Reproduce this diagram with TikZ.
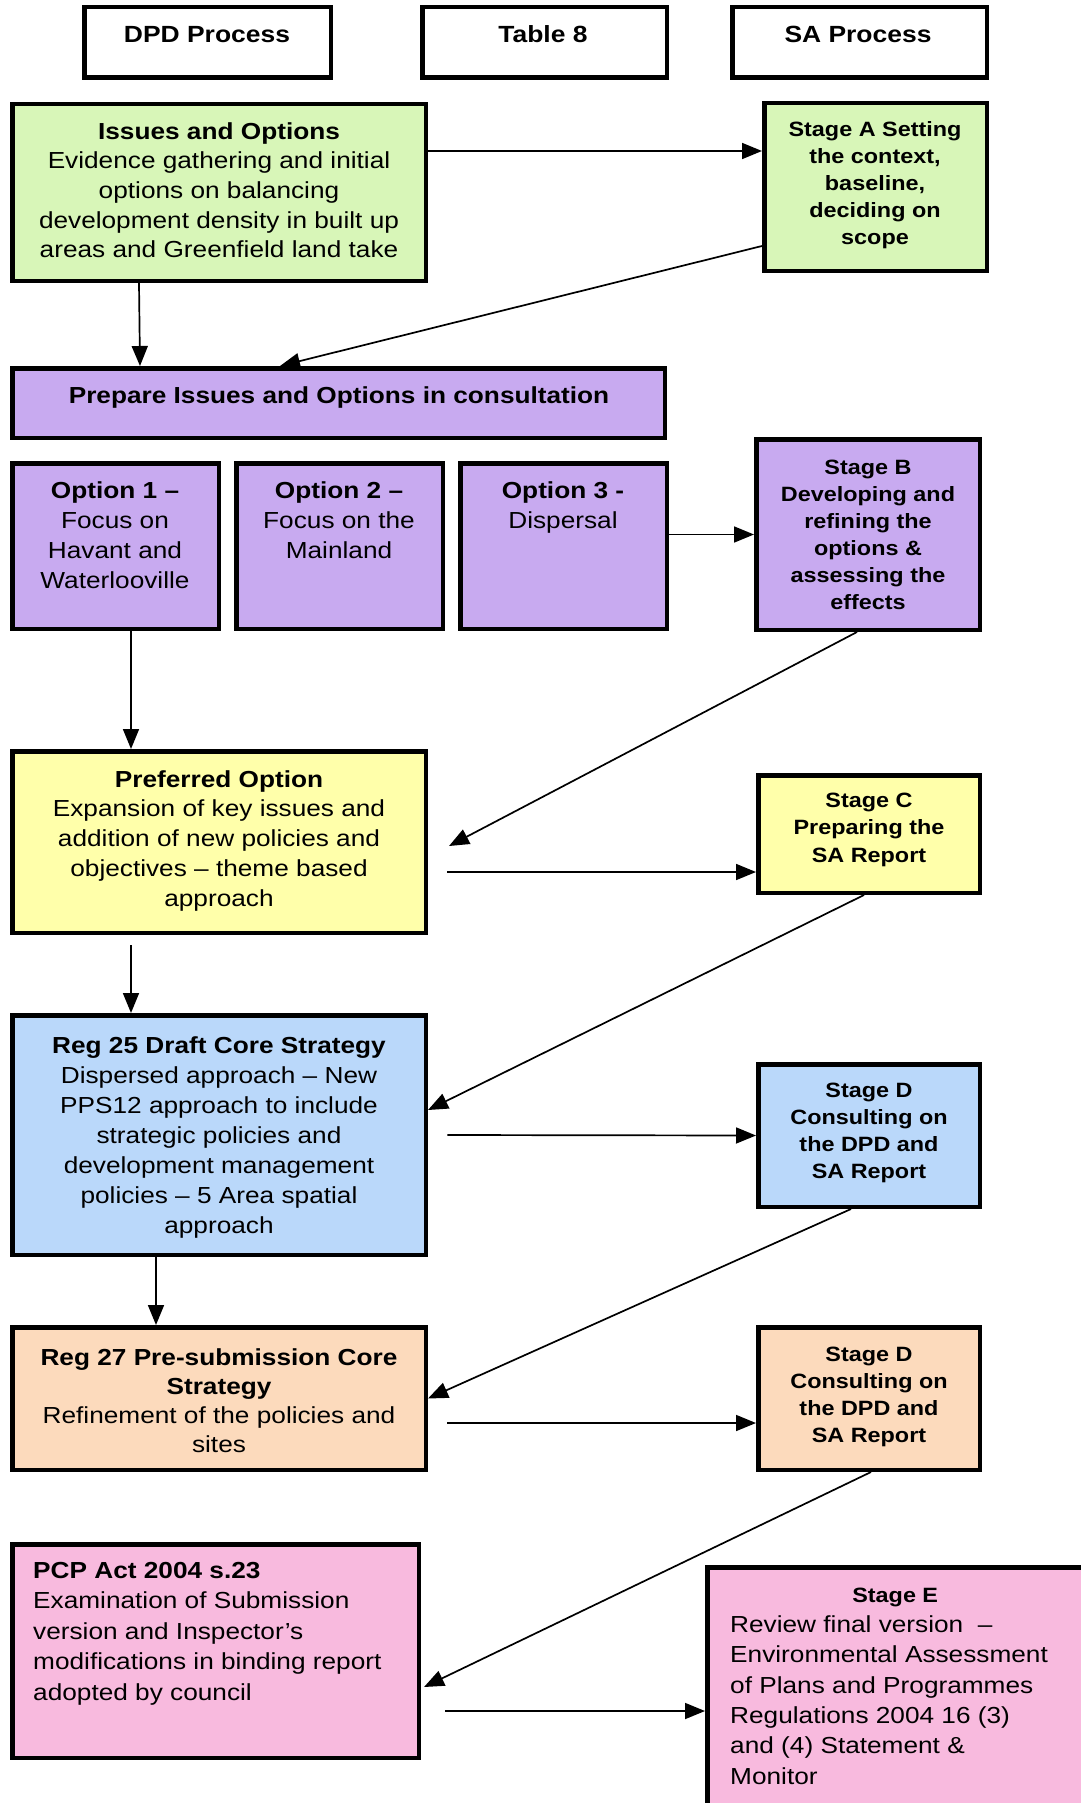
\documentclass[tikz,border=0pt]{standalone}
\usepackage{fontspec}
\setmainfont{Liberation Sans}[FakeStretch=1.13]
\usetikzlibrary{arrows.meta}
\definecolor{cgrn}{RGB}{216,246,184}
\definecolor{cpur}{RGB}{200,170,240}
\definecolor{cyel}{RGB}{255,255,170}
\definecolor{cblu}{RGB}{186,216,250}
\definecolor{cora}{RGB}{252,218,188}
\definecolor{cpnk}{RGB}{248,186,222}
\begin{document}
\begin{tikzpicture}[x=1pt,y=-1pt,
  box/.style={draw=black, line width=4.5pt, inner sep=0pt, rectangle},
  body/.style={font=\fontsize{23.2pt}{29.7pt}\selectfont, align=center, inner sep=0pt, anchor=base},
  stagetxt/.style={font=\fontsize{20.7pt}{26.5pt}\selectfont\bfseries, align=center, inner sep=0pt, anchor=base},
  hdrtxt/.style={font=\fontsize{23.4pt}{28pt}\selectfont\bfseries, inner sep=0pt, anchor=base},
  arr/.style={line width=1.7pt, -{Triangle[length=20pt,width=16pt]}}
]
\useasboundingbox (0,0) rectangle (1080,1803);

% header boxes
\node[box, minimum width=246.5pt, minimum height=70.5pt] (h1) at (207.5,42.5) {};
\node[box, minimum width=244.5pt, minimum height=70.5pt] (h2) at (544.5,42.5) {};
\node[box, minimum width=254.5pt, minimum height=70.5pt] (h3) at (859.5,42.5) {};
\node[hdrtxt] (h1t) at (207,43) {DPD Process};
\node[hdrtxt] (h2t) at (543,43) {Table 8};
\node[hdrtxt] (h3t) at (858,43) {SA Process};

% boxes
\node[box, fill=cgrn, minimum width=413.5pt, minimum height=176.5pt] (io) at (219,192.5) {};
\node[box, fill=cgrn, minimum width=222.5pt, minimum height=167.5pt] (sa) at (875.5,187) {};
\node[box, fill=cpur, minimum width=652.5pt, minimum height=69.5pt] (prep) at (338.5,403) {};
\node[box, fill=cpur, minimum width=206.5pt, minimum height=165.5pt] (o1) at (115.5,546) {};
\node[box, fill=cpur, minimum width=206.5pt, minimum height=165.5pt] (o2) at (339.5,546) {};
\node[box, fill=cpur, minimum width=206.5pt, minimum height=165.5pt] (o3) at (563.5,546) {};
\node[box, fill=cpur, minimum width=223.5pt, minimum height=190.5pt] (sb) at (868,534.5) {};
\node[box, fill=cyel, minimum width=413.5pt, minimum height=181.5pt] (pref) at (219,842) {};
\node[box, fill=cyel, minimum width=221.5pt, minimum height=117.5pt] (sc) at (869,834) {};
\node[box, fill=cblu, minimum width=413.5pt, minimum height=239.5pt] (r25) at (219,1135) {};
\node[box, fill=cblu, minimum width=221.5pt, minimum height=142.5pt] (sd1) at (869,1135.5) {};
\node[box, fill=cora, minimum width=413.5pt, minimum height=142.5pt] (r27) at (219,1398.5) {};
\node[box, fill=cora, minimum width=221.5pt, minimum height=142.5pt] (sd2) at (869,1398.5) {};
\node[box, fill=cpnk, minimum width=406.5pt, minimum height=213.5pt] (pcp) at (215.5,1651) {};
\node[box, fill=cpnk, minimum width=385.5pt, minimum height=250.5pt] (se) at (900,1692.5) {};

% texts (anchor base = last line baseline)
\node[body] (iot) at (219,258) {\textbf{Issues and Options}\\Evidence gathering and initial\\options on balancing\\development density in built up\\areas and Greenfield land take};
\node[stagetxt, font=\fontsize{20.7pt}{27pt}\selectfont\bfseries] (sat) at (875,245) {Stage A Setting\\the context,\\baseline,\\deciding on\\scope};
\node[body] (prept) at (339,403) {\textbf{Prepare Issues and Options in consultation}};
\node[body, font=\fontsize{23.2pt}{30pt}\selectfont] (o1t) at (115,588) {\textbf{Option 1 –}\\Focus on\\Havant and\\Waterlooville};
\node[body, font=\fontsize{23.2pt}{30pt}\selectfont] (o2t) at (339,558) {\textbf{Option 2 –}\\Focus on the\\Mainland};
\node[body, font=\fontsize{23.2pt}{30pt}\selectfont] (o3t) at (563,528) {\textbf{Option 3 -}\\Dispersal};
\node[stagetxt, font=\fontsize{20.7pt}{27pt}\selectfont\bfseries] (sbt) at (868,609) {Stage B\\Developing and\\refining the\\options \&\\assessing the\\effects};
\node[body] (preft) at (219,906) {\textbf{Preferred Option}\\Expansion of key issues and\\addition of new policies and\\objectives – theme based\\approach};
\node[stagetxt, font=\fontsize{20.7pt}{27.5pt}\selectfont\bfseries] (sct) at (869,862) {Stage C\\Preparing the\\SA Report};
\node[body, font=\fontsize{23.2pt}{30pt}\selectfont] (r25t) at (219,1233) {\textbf{Reg 25 Draft Core Strategy}\\Dispersed approach – New\\PPS12 approach to include\\strategic policies and\\development management\\policies – 5 Area spatial\\approach};
\node[stagetxt, font=\fontsize{20.7pt}{27pt}\selectfont\bfseries] (sd1t) at (869,1178) {Stage D\\Consulting on\\the DPD and\\SA Report};
\node[body, font=\fontsize{23.2pt}{29pt}\selectfont] (r27t) at (219,1452) {\textbf{Reg 27 Pre-submission Core}\\\textbf{Strategy}\\Refinement of the policies and\\sites};
\node[stagetxt, font=\fontsize{20.7pt}{27pt}\selectfont\bfseries] (sd2t) at (869,1442) {Stage D\\Consulting on\\the DPD and\\SA Report};
\node[body, font=\fontsize{23.2pt}{30.5pt}\selectfont, align=left, anchor=base west] (pcpt) at (33,1700) {\textbf{PCP Act 2004 s.23}\\Examination of Submission\\version and Inspector’s\\modifications in binding report\\adopted by council};
\node[body, font=\fontsize{23.2pt}{30.3pt}\selectfont, align=left, anchor=base west] (set) at (730,1784) {\makebox[330pt]{\fontsize{20.7pt}{26pt}\selectfont\bfseries Stage E}\\Review final version\ \ –\\Environmental Assessment\\of Plans and Programmes\\Regulations 2004 16 (3)\\and (4) Statement \&\\Monitor};

% free ends
\coordinate (pin) at ([xshift=21pt,yshift=-4pt]pref.east);
\coordinate (pout) at ([xshift=19.25pt,yshift=-30pt]pref.east);
\coordinate (r25in) at ([yshift=25pt]r25.east);
\coordinate (r25out) at ([xshift=19.25pt]r25.east);
\coordinate (r27out) at ([xshift=19.25pt,yshift=-24.5pt]r27.east);
\coordinate (pcpin) at ([xshift=3pt,yshift=-36pt]pcp.east);
\coordinate (pcpout) at ([xshift=24.25pt,yshift=-60pt]pcp.east);
\coordinate (prefout) at ([xshift=-88pt,yshift=-10pt]pref.south);

% connectors
\draw[arr] ([yshift=41.5pt]io.east) -- ([yshift=36pt]sa.west);
\draw[arr] ([yshift=-59pt]sa.west) -- ([xshift=-58.5pt]prep.north);
\draw[arr] ([xshift=-80pt]io.south) -- ([xshift=-198.5pt]prep.north);
\draw[arr] (o3.east |- sb.west) -- (sb.west);
\draw[arr] ([xshift=15.5pt]o1.south) -- ([xshift=-88pt]pref.north);
\draw[arr] ([xshift=-11pt]sb.south) -- (pin);
\draw[arr] (pout) -- ([yshift=-38pt]sc.west);
\draw[arr] (prefout) -- ([xshift=-88pt]r25.north);
\draw[arr] ([xshift=-5pt]sc.south) -- (r25in);
\draw[arr] (r25out) -- (sd1.west);
\draw[arr] ([xshift=-63pt]r25.south) -- ([xshift=-63pt]r27.north);
\draw[arr] ([xshift=-18pt]sd1.south) -- (r27.east);
\draw[arr] (r27out) -- ([yshift=-24.5pt]sd2.west);
\draw[arr] ([xshift=2pt]sd2.south) -- (pcpin);
\draw[arr] (pcpout) -- ([yshift=-18.5pt]se.west);
\end{tikzpicture}
\end{document}
